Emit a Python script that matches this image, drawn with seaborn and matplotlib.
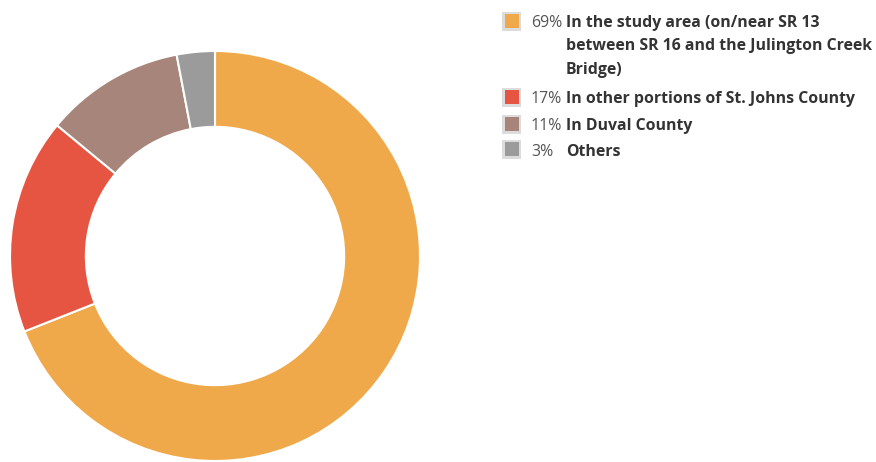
import matplotlib
matplotlib.use("Agg")
import matplotlib.pyplot as plt
from matplotlib.patches import Rectangle
import seaborn as sns

categories = [
    "In the study area (on/near SR 13\nbetween SR 16 and the Julington Creek\nBridge)",
    "In other portions of St. Johns County",
    "In Duval County",
    "Others",
]
values = [69, 17, 11, 3]
pct_labels = ["69%", "17%", "11%", "3%"]
colors = ["#F0A94A", "#E55541", "#A8857A", "#9B9B9B"]

sns.set_theme(style="white")
plt.rcParams['font.family'] = ['Open Sans', 'DejaVu Sans']

W, H = 876, 462
fig = plt.figure(figsize=(W / 100, H / 100), dpi=100)
fig.patch.set_facecolor("white")

cx, cy, r = 215, 256, 205
ax = fig.add_axes([(cx - r) / W, (H - cy - r) / H, 2 * r / W, 2 * r / H])
ax.pie(values, colors=colors, startangle=90, counterclock=False, radius=1,
       wedgeprops=dict(width=0.37, edgecolor="white", linewidth=1.5))
ax.set_xlim(-1, 1)
ax.set_ylim(-1, 1)
ax.set_aspect("equal")
ax.axis("off")

# legend
baselines = [27, 103, 130, 156]
square_c = [21, 97, 124, 149]
line_gap = 23.5
for i, (lab, pct, col) in enumerate(zip(categories, pct_labels, colors)):
    yb = baselines[i]
    yc = square_c[i]
    fig.patches.append(Rectangle((502 / W, (H - yc - 9.5) / H), 19 / W, 19 / H,
                                 transform=fig.transFigure, facecolor="#dcdcdc",
                                 edgecolor="none"))
    fig.patches.append(Rectangle((504.5 / W, (H - yc - 7) / H), 14 / W, 14 / H,
                                 transform=fig.transFigure, facecolor=col,
                                 edgecolor="none"))
    fig.text(531 / W, (H - yb) / H, pct, fontsize=11.4, color="#555555",
             va="baseline", ha="left")
    for j, line in enumerate(lab.split("\n")):
        fig.text(566 / W, (H - yb - j * line_gap) / H, line, fontsize=11.4,
                 color="#333333", fontweight="bold", va="baseline", ha="left")

fig.savefig("out.png", dpi=100, facecolor="white")
